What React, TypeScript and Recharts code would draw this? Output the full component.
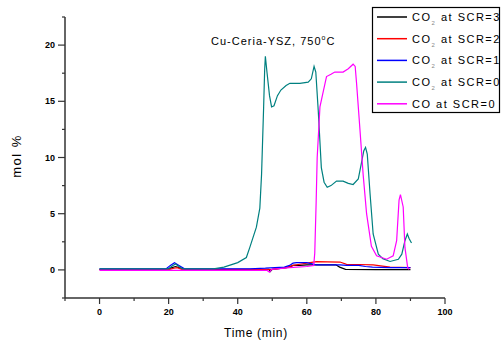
import { LineChart, Line, XAxis, YAxis } from 'recharts'

// time (min) and mol %, one pair of arrays per series
const co2Scr3Time = [0, 19.5, 21, 22, 23, 24.5, 45, 49, 49.4, 50, 53, 55, 56, 58, 60, 64, 68.4, 69.5, 71.2, 80, 90]
const co2Scr3 = [0.05, 0.05, 0.2, 0.3, 0.2, 0.05, 0.05, 0.05, -0.15, 0.05, 0.15, 0.25, 0.4, 0.4, 0.45, 0.45, 0.45, 0.25, 0.05, 0.02, 0.02]

const co2Scr2Time = [0, 20, 21.5, 22.5, 24, 45, 50, 54, 56, 58, 60, 62.8, 66, 69.6, 71.5, 75, 79.2, 84.1, 90]
const co2Scr2 = [0.02, 0.02, 0.15, 0.2, 0.02, 0.02, 0.05, 0.2, 0.4, 0.5, 0.6, 0.73, 0.72, 0.7, 0.5, 0.48, 0.45, 0.25, 0.2]

const co2Scr1Time = [0, 19.3, 20.5, 21.7, 23, 24.6, 43.5, 48, 53.5, 55, 56, 57, 60, 62.8, 66, 69.6, 71.5, 75, 77, 79, 84.1, 90]
const co2Scr1 = [0.1, 0.1, 0.4, 0.64, 0.4, 0.1, 0.1, 0.15, 0.25, 0.4, 0.6, 0.65, 0.65, 0.45, 0.45, 0.45, 0.4, 0.4, 0.3, 0.25, 0.2, 0.2]

const co2Scr0Time = [
  0, 20, 21, 22, 23, 24, 33, 36, 40, 42.5, 43.5, 45.4, 46.4, 46.9, 47.5, 47.8, 48.0, 48.5, 49.2, 49.8,
  50.5, 51.5, 52.5, 54, 55.1, 58, 60.4, 61.3, 62.1, 62.6, 63.3, 64.2, 65, 65.9, 67, 68.6, 70.5, 72, 73.4,
  74.9, 75.8, 76.5, 77.0, 77.5, 78.3, 79.2, 80.7, 82, 84.1, 86.5, 87.5, 88.4, 89.1, 89.6, 90.3,
]
const co2Scr0 = [
  0.1, 0.1, 0.35, 0.53, 0.3, 0.1, 0.1, 0.25, 0.65, 1.1, 2.0, 3.8, 5.5, 8.5, 14.5, 17.8, 19.0, 17.5, 15.5, 14.5,
  14.6, 15.5, 16.0, 16.4, 16.6, 16.6, 16.7, 17.0, 18.1, 17.6, 14.2, 9.1, 7.8, 7.35, 7.5, 7.9, 7.9, 7.7, 7.6,
  8.1, 9.5, 10.6, 10.9, 10.3, 6.8, 3.2, 1.4, 1.0, 0.75, 0.95, 1.4, 2.6, 3.2, 2.8, 2.4,
]

const coScr0Time = [
  0, 48.5, 49.2, 49.8, 55, 60, 62.0, 62.3, 62.7, 63.0, 63.8, 64.5, 65.7, 67, 68.1, 70.5, 72, 73.4, 74.0,
  74.4, 75.4, 76.3, 77.3, 78.7, 80.2, 83.1, 85.0, 86.0, 86.7, 87.1, 87.9, 88.4, 89.2, 89.6,
]
const coScr0 = [
  -0.05, -0.05, -0.2, 0.05, 0.2, 0.3, 0.4, 1.5, 6, 10.0, 14.5, 15.5, 17.2, 17.4, 17.6, 17.6, 17.9, 18.3, 18.1,
  16.6, 12.4, 8.5, 5.0, 2.1, 1.25, 0.95, 1.25, 2.6, 6.2, 6.7, 5.6, 2.0, 0.2, 0.05,
]

const xTicks = [-10, 0, 10, 20, 30, 40, 50, 60, 70, 80, 90, 100]
const yTicks = [-2.5, 0, 2.5, 5, 7.5, 10, 12.5, 15, 17.5, 20, 22.5]

const toPoints = (time: number[], values: number[]) => time.map((t, i) => ({ t, v: values[i] }))

const series = [
  { name: 'SCR=3', gas: 'CO2', color: '#000000', data: toPoints(co2Scr3Time, co2Scr3) },
  { name: 'SCR=2', gas: 'CO2', color: '#ff0000', data: toPoints(co2Scr2Time, co2Scr2) },
  { name: 'SCR=1', gas: 'CO2', color: '#0000ff', data: toPoints(co2Scr1Time, co2Scr1) },
  { name: 'SCR=0', gas: 'CO2', color: '#008080', data: toPoints(co2Scr0Time, co2Scr0) },
  { name: 'SCR=0', gas: 'CO', color: '#ff00ff', data: toPoints(coScr0Time, coScr0) },
]

const tickFont = { fontFamily: '"Liberation Sans", Arial, sans-serif', fontSize: 9, fontWeight: 700 }
const labelFont = '"Liberation Sans", Arial, sans-serif'

function XTick({ x, y, payload }: any) {
  const major = payload.value % 20 === 0
  return (
    <g>
      <line x1={x} y1={y} x2={x} y2={y + (major ? 6 : 3)} stroke="#333" strokeWidth={1.2} />
      {major && (
        <text x={x} y={y + 17} textAnchor="middle" fill="#000" {...tickFont}>
          {payload.value}
        </text>
      )}
    </g>
  )
}

function YTick({ x, y, payload }: any) {
  const major = payload.value % 5 === 0
  return (
    <g>
      <line x1={x} y1={y} x2={x - (major ? 7 : 3)} y2={y} stroke="#333" strokeWidth={1.2} />
      {major && (
        <text x={x - 10} y={y + 3} textAnchor="end" fill="#000" {...tickFont}>
          {payload.value}
        </text>
      )}
    </g>
  )
}

export default function App() {
  return (
    <div style={{ position: 'absolute', left: 0, top: 0, width: 501, height: 342, background: '#fff' }}>
      <LineChart width={501} height={342} margin={{ top: 17, right: 56, bottom: 0, left: 0 }}>
        <XAxis
          dataKey="t"
          type="number"
          domain={[-10, 100]}
          ticks={xTicks}
          interval={0}
          height={44}
          tickSize={0}
          tickMargin={0}
          tickLine={false}
          tick={<XTick />}
          axisLine={{ stroke: '#333', strokeWidth: 1.5 }}
          allowDataOverflow
        />
        <YAxis
          type="number"
          domain={[-2.5, 22.5]}
          ticks={yTicks}
          interval={0}
          width={65}
          tickSize={0}
          tickMargin={0}
          tickLine={false}
          tick={<YTick />}
          axisLine={{ stroke: '#333', strokeWidth: 1.5 }}
          allowDataOverflow
        />
        {series.map((s, i) => (
          <Line
            key={i}
            data={s.data}
            dataKey="v"
            type="linear"
            stroke={s.color}
            strokeWidth={1.2}
            dot={false}
            isAnimationActive={false}
          />
        ))}
      </LineChart>

      <svg width={501} height={342} style={{ position: 'absolute', left: 0, top: 0, pointerEvents: 'none' }}>
        <text x={211} y={45} fontFamily={labelFont} fontSize={11} letterSpacing={1} fill="#000">
          Cu-Ceria-YSZ, 750
          <tspan fontSize={7} dy={-5}>o</tspan>
          <tspan dy={5}>C</tspan>
        </text>
        <text x={256} y={337} textAnchor="middle" fontFamily={labelFont} fontSize={12} letterSpacing={0.7} fill="#000">
          Time (min)
        </text>
        <text
          x={0}
          y={0}
          transform="translate(21 156) rotate(-90)"
          textAnchor="middle"
          fontFamily={labelFont}
          fontSize={13}
          letterSpacing={1.5}
          fill="#000"
        >
          mol %
        </text>

        <rect x={372.5} y={7.5} width={127} height={105} fill="#fff" stroke="#000" strokeWidth={1.2} />
        {series.map((s, i) => {
          const cy = 17 + i * 21.7
          return (
            <g key={i}>
              <line x1={377} y1={cy} x2={407} y2={cy} stroke={s.color} strokeWidth={1.5} />
              <text x={412} y={cy + 4} fontFamily={labelFont} fontSize={11} letterSpacing={1.5} fill="#000">
                {s.gas === 'CO2' ? (
                  <>
                    CO
                    <tspan fontSize={6} fill="#888" dy={4}>2</tspan>
                    <tspan dy={-4}> at {s.name}</tspan>
                  </>
                ) : (
                  <>CO at {s.name}</>
                )}
              </text>
            </g>
          )
        })}
      </svg>
    </div>
  )
}
